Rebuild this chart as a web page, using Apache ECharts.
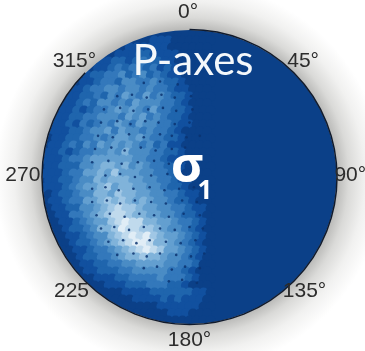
<!DOCTYPE html>
<html>
<head>
<meta charset="utf-8">
<script src="https://cdn.jsdelivr.net/npm/echarts@6/dist/echarts.min.js"></script>
<style>
html, body { margin: 0; padding: 0; background: #fff; overflow: hidden; }
#chart { width: 365px; height: 351px; filter: blur(0.6px); }
</style>
</head>
<body>
<div id="chart"></div>
<script>
// tick labels round the net, as far as they show past the disc
const angleLabels = ['0°', '45°', '90°', '135°', '180°', '225', '270', '315°'];
// where those labels sit, in percent of the net radius
const angleLabelX = [-1, 77, 109, 78, 0, -80, -113, -78];
const angleLabelY = [112, 79, 1, -78, -111, -78, 1, 79];

// P-axis density, top row first, only the western part of the net (0 = background)
const densityRows = [
  [0,0,0,0,0,0,0,0,0,0,0,0,0,0,0,0,0,0,0,0,0,0,0,0],
  [0,0,0,0,0,0,0,0,0,0,0,0,0,0,0,1,1,1,0,0,0,0,0,0],
  [0,0,0,0,0,0,0,0,0,0,0,0,1,1,1,1,1,1,0,0,0,0,0,0],
  [0,0,0,0,0,0,0,0,0,0,1,1,1,2,2,1,1,1,1,0,0,0,0,0],
  [0,0,0,0,0,0,0,0,1,1,2,2,1,2,3,2,2,1,1,0,0,0,0,0],
  [0,0,0,0,0,0,0,1,1,2,3,2,3,3,2,3,1,2,1,0,0,0,0,0],
  [0,0,0,0,0,0,1,2,2,3,3,4,2,3,4,2,3,2,1,1,0,0,0,0],
  [0,0,0,0,0,1,1,2,3,3,2,4,4,3,3,4,3,2,2,1,0,0,0,0],
  [0,0,0,0,1,1,2,3,3,4,4,3,4,4,3,4,3,3,2,1,1,0,0,0],
  [0,0,0,1,1,2,2,3,2,4,3,5,4,3,5,3,4,3,2,2,1,0,0,0],
  [0,0,0,1,1,2,3,2,4,4,3,4,3,5,4,4,4,3,3,2,1,0,0,0],
  [0,0,1,1,2,1,2,3,3,4,5,4,5,4,3,5,3,3,2,2,1,0,0,0],
  [0,0,1,1,2,2,3,3,4,4,4,3,5,4,5,3,4,3,2,2,1,0,0,0],
  [0,1,1,2,1,3,2,3,4,3,5,4,3,5,4,4,3,3,2,1,1,0,0,0],
  [0,1,1,1,2,2,3,4,4,5,3,5,4,4,3,4,3,3,2,1,0,0,0,0],
  [0,1,1,2,2,3,3,4,3,4,5,5,4,5,4,3,3,2,2,1,0,0,0,0],
  [0,1,1,2,3,2,4,3,5,4,5,4,5,4,3,4,2,3,1,1,0,0,0,0],
  [1,1,2,1,2,3,3,4,4,5,4,6,4,4,4,3,3,2,2,1,0,0,0,0],
  [1,1,1,2,3,3,4,5,5,5,5,5,5,4,4,3,3,2,1,1,0,0,0,0],
  [1,1,2,2,2,4,4,5,6,6,5,6,4,5,4,3,3,2,2,1,0,0,0,0],
  [1,1,1,2,3,3,5,5,6,5,7,5,5,5,4,4,3,3,2,1,0,0,0,0],
  [1,1,2,2,3,4,4,6,5,6,6,6,5,5,4,4,3,3,2,1,1,0,0,0],
  [1,1,1,2,3,4,5,5,6,7,5,6,6,5,5,4,4,3,2,2,1,0,0,0],
  [0,1,2,2,3,4,4,6,6,5,7,6,6,5,5,4,4,3,3,2,1,1,0,0],
  [0,1,1,2,3,3,5,5,6,7,6,7,6,5,6,5,4,4,3,2,2,1,0,0],
  [0,1,1,2,2,4,4,5,6,7,8,7,7,6,5,5,4,4,3,3,2,1,1,0],
  [0,0,1,1,3,3,4,5,6,7,8,8,7,6,6,5,5,4,4,3,2,2,1,0],
  [0,0,1,1,2,3,4,5,5,7,8,9,8,8,6,6,5,5,4,3,3,2,1,0],
  [0,0,0,1,2,2,3,4,6,6,7,9,8,8,7,7,6,5,4,4,3,2,1,0],
  [0,0,0,1,1,2,3,4,4,6,7,8,9,8,9,7,6,5,5,4,3,2,1,0],
  [0,0,0,0,1,2,2,3,4,5,6,7,8,9,9,8,6,6,5,4,3,2,1,0],
  [0,0,0,0,1,1,2,3,3,4,5,6,7,8,9,8,7,5,5,4,3,2,1,0],
  [0,0,0,0,0,1,2,2,3,3,4,5,6,6,7,6,6,5,4,4,3,2,1,0],
  [0,0,0,0,0,1,1,2,2,3,3,4,4,5,5,5,5,4,4,3,3,2,0,0],
  [0,0,0,0,0,0,1,1,2,2,2,3,3,4,4,4,4,4,3,3,2,1,0,0],
  [0,0,0,0,0,0,0,1,1,1,2,2,3,3,3,3,4,3,3,3,2,1,0,0],
  [0,0,0,0,0,0,0,0,0,1,1,1,2,2,2,3,3,3,2,2,1,0,0,0],
  [0,0,0,0,0,0,0,0,0,0,0,1,1,1,1,2,2,2,2,2,2,1,1,0],
  [0,0,0,0,0,0,0,0,0,0,0,0,0,1,1,1,1,2,1,2,1,1,1,0],
  [0,0,0,0,0,0,0,0,0,0,0,0,0,0,0,0,1,1,1,1,1,1,0,0],
  [0,0,0,0,0,0,0,0,0,0,0,0,0,0,0,0,0,0,1,1,1,0,0,0],
  [0,0,0,0,0,0,0,0,0,0,0,0,0,0,0,0,0,0,0,0,0,0,0,0]
];

// station dots, x and y in percent of the net radius
const stationDots = [
  [-31,64],[-20,65],[-8,63],
  [-49,55],[-39,56],[-29,54],[-19,56],[-10,54],[1,55],
  [-58,46],[-47,47],[-38,45],[-28,46],[-18,47],[-9,45],[2,46],
  [-60,37],[-49,38],[-40,36],[-30,38],[-21,37],[-10,36],[0,37],
  [-62,28],[-52,27],[-41,29],[-31,27],[-20,29],[-12,28],[-2,27],[7,28],
  [-64,19],[-53,20],[-44,18],[-33,20],[-23,18],[-12,19],[-3,20],
  [-66,10],[-55,11],[-46,9],[-35,10],[-24,11],[-14,9],[-5,10],
  [-57,1],[-47,2],[-37,0],[-26,1],[-15,2],[-6,0],
  [-66,-8],[-57,-7],[-48,-9],[-38,-8],[-27,-7],[-17,-9],[-7,-8],[3,-7],
  [-66,-17],[-56,-16],[-47,-18],[-37,-16],[-26,-17],[-16,-18],[-5,-16],[5,-17],
  [-63,-26],[-54,-25],[-44,-27],[-34,-25],[-24,-26],[-14,-27],[-4,-25],[7,-26],
  [-60,-35],[-51,-34],[-41,-36],[-31,-34],[-20,-35],[-10,-36],[0,-34],[9,-35],
  [-55,-44],[-45,-43],[-36,-45],[-27,-43],[-16,-44],[-6,-45],[4,-43],
  [-49,-53],[-38,-52],[-29,-54],[-20,-52],[-9,-53],[1,-54],[10,-52],
  [-31,-62],[-22,-61],[-12,-63],[-3,-61],[7,-62],
  [-14,-71],[-5,-70],[5,-72]
];

const densityColors = ['#0b4088', '#11509f', '#1f65ad', '#3378bb', '#4a8cc5', '#639fd0', '#80b3da', '#a0c7e5', '#c0daed', '#e0edf6'];
const base = '#0b4088';

// every other row is shifted half a cell so the blobs do not line up in a block pattern
const heatData = [];
densityRows.forEach((row, j) => {
  row.forEach((v, i) => {
    heatData.push([i + (j % 2) * 0.5, j, v]);
  });
});
const labelData = angleLabels.map((name, i) => ({ name: name, value: [angleLabelX[i], angleLabelY[i]] }));

const chart = echarts.init(document.getElementById('chart'));
const netRect = { left: 42, top: 30, width: 295, height: 294 };

chart.setOption({
  animation: false,
  backgroundColor: '#fff',
  grid: [
    Object.assign({ show: true, backgroundColor: base, borderWidth: 0 }, netRect),
    Object.assign({ show: false }, netRect)
  ],
  xAxis: [
    { type: 'value', gridIndex: 0, min: -0.5, max: 41.5, show: false },
    { type: 'value', gridIndex: 1, min: -100, max: 100, show: false }
  ],
  yAxis: [
    { type: 'value', gridIndex: 0, min: -0.5, max: 41.5, inverse: true, show: false },
    { type: 'value', gridIndex: 1, min: -100, max: 100, show: false }
  ],
  visualMap: {
    show: false,
    seriesIndex: 0,
    dimension: 2,
    min: 0,
    max: 9,
    inRange: { color: densityColors }
  },
  polar: { center: [189.5, 177], radius: 147.5 },
  angleAxis: {
    type: 'category',
    boundaryGap: false,
    data: angleLabels,
    startAngle: 90,
    clockwise: true,
    z: 10,
    axisLine: { show: true, lineStyle: { color: '#101a2c', width: 1.5 } },
    axisTick: { show: false },
    splitLine: { show: false },
    axisLabel: { show: false }
  },
  radiusAxis: { show: false },
  graphic: {
    elements: [
      {
        // halo round the net, also masks the square corners of the density layer
        type: 'ring',
        z: 5,
        shape: { cx: 189.5, cy: 177, r: 270, r0: 147 },
        style: {
          fill: {
            type: 'radial', x: 0.5, y: 0.5, r: 0.5,
            colorStops: [
              { offset: 0.544, color: '#b8b8b6' },
              { offset: 0.59, color: '#dadad8' },
              { offset: 0.65, color: '#f1f1f0' },
              { offset: 0.72, color: '#ffffff' },
              { offset: 1, color: '#ffffff' }
            ]
          }
        }
      },
      {
        type: 'text', z: 20, x: 193, y: 61,
        style: { text: 'P-axes', fill: '#f4f8fb', font: '42px Lato', align: 'center', verticalAlign: 'middle' }
      },
      {
        type: 'text', z: 20, x: 187, y: 168,
        style: { text: 'σ', fill: '#fff', font: 'bold 50px "Open Sans"', align: 'center', verticalAlign: 'middle' }
      },
      {
        type: 'text', z: 20, x: 205, y: 192,
        style: { text: '1', fill: '#fff', font: 'bold 26px "Open Sans"', align: 'center', verticalAlign: 'middle' }
      }
    ]
  },
  series: [
    {
      type: 'scatter',
      xAxisIndex: 0,
      yAxisIndex: 0,
      z: 2,
      symbolSize: 10,
      silent: true,
      itemStyle: { opacity: 1 },
      data: heatData
    },
    {
      type: 'scatter',
      xAxisIndex: 1,
      yAxisIndex: 1,
      z: 3,
      symbolSize: 2.6,
      silent: true,
      itemStyle: { color: '#0a3370', opacity: 0.85 },
      data: stationDots
    },
    {
      type: 'scatter',
      xAxisIndex: 1,
      yAxisIndex: 1,
      z: 12,
      zlevel: 1,
      symbolSize: 0,
      silent: true,
      clip: false,
      itemStyle: { opacity: 1 },
      label: {
        show: true,
        position: 'inside',
        formatter: '{b}',
        fontFamily: 'Liberation Sans',
        fontSize: 21,
        color: '#2c2c2c'
      },
      data: labelData
    }
  ]
});
</script>
</body>
</html>
